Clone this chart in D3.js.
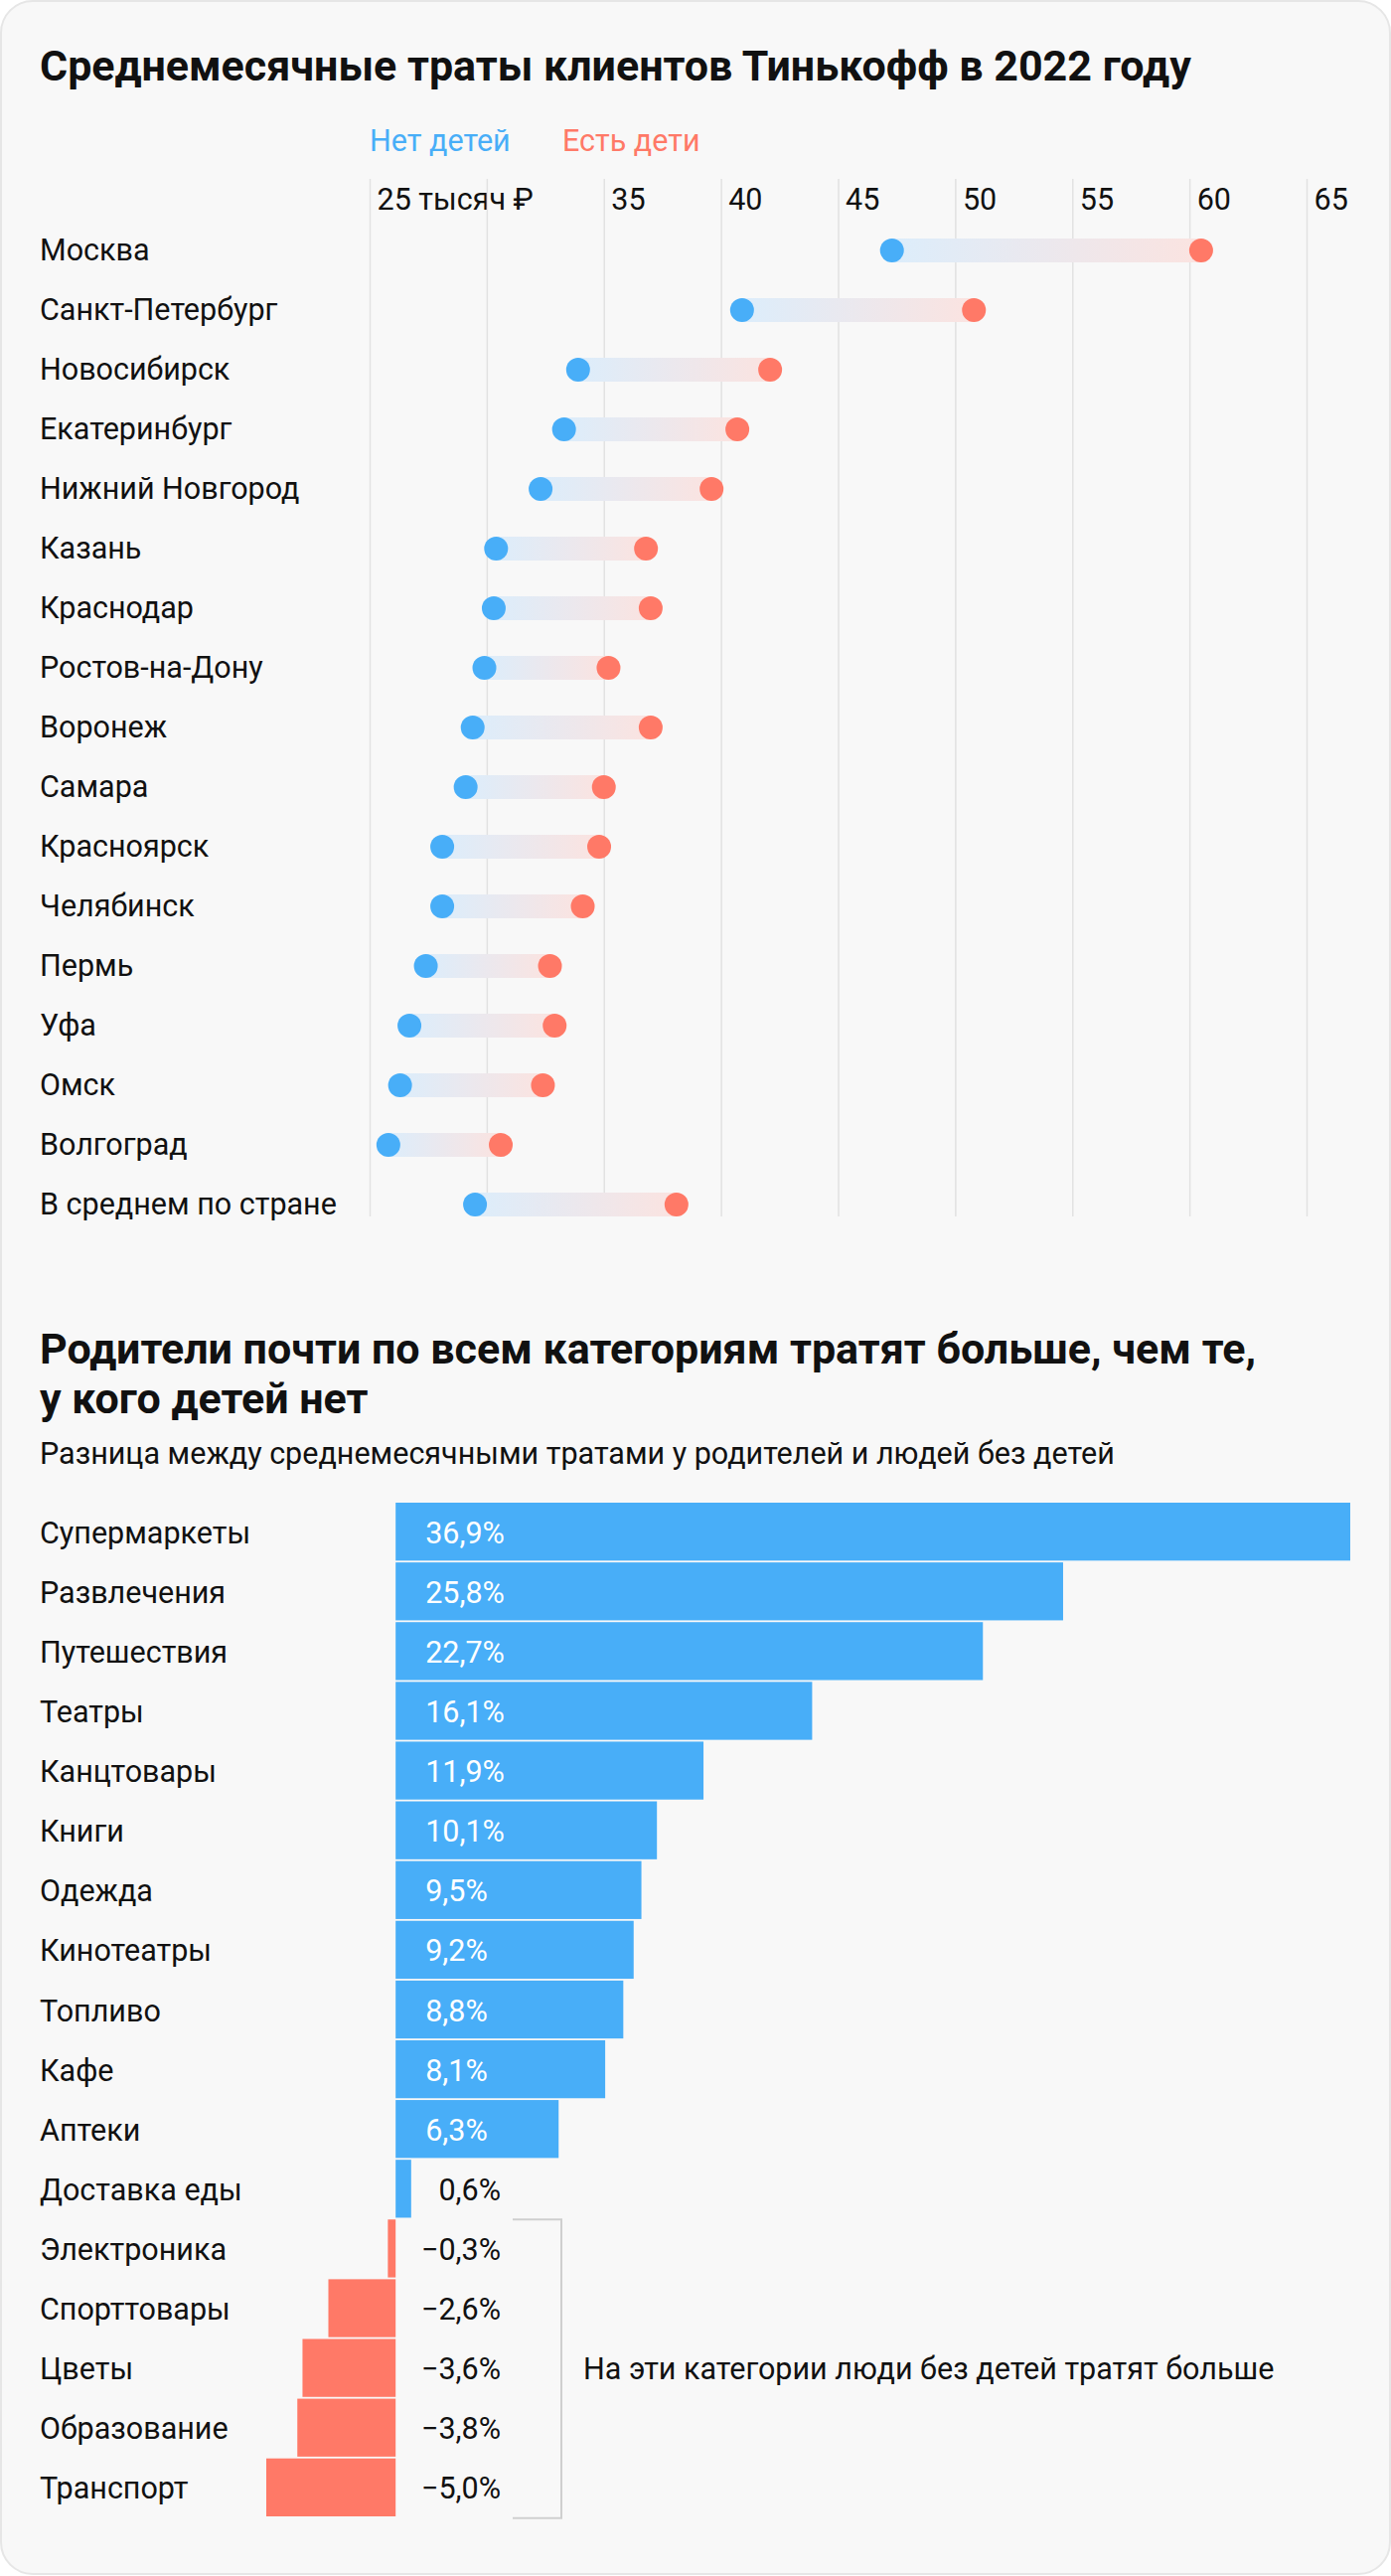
<!DOCTYPE html>
<html><head><meta charset="utf-8">
<script src="https://cdn.jsdelivr.net/npm/d3@7"></script>
<style>
body{margin:0;background:#fff;}
svg text{font-family:Roboto,"Noto Sans",sans-serif;}
</style></head>
<body><svg id="c" width="1400" height="2592"></svg>
<script>
// ---- Data: chart 1 ----
const cities = ["Москва","Санкт-Петербург","Новосибирск","Екатеринбург","Нижний Новгород","Казань","Краснодар","Ростов-на-Дону","Воронеж","Самара","Красноярск","Челябинск","Пермь","Уфа","Омск","Волгоград","В среднем по стране"];
const noKids  = [47.3,40.9,33.9,33.3,32.3,30.4,30.3,29.9,29.4,29.1,28.1,28.1,27.4,26.7,26.3,25.8,29.5];
const withKids= [60.5,50.8,42.1,40.7,39.6,36.8,37.0,35.2,37.0,35.0,34.8,34.1,32.7,32.9,32.4,30.6,38.1];
const tickValues = [25,30,35,40,45,50,55,60,65];
const tickLabels = ["25 тысяч ₽","","35","40","45","50","55","60","65"];
const legendLabels = ["Нет детей","Есть дети"];
// ---- Data: chart 2 ----
const categories = ["Супермаркеты","Развлечения","Путешествия","Театры","Канцтовары","Книги","Одежда","Кинотеатры","Топливо","Кафе","Аптеки","Доставка еды","Электроника","Спорттовары","Цветы","Образование","Транспорт"];
const diffs = [36.9,25.8,22.7,16.1,11.9,10.1,9.5,9.2,8.8,8.1,6.3,0.6,-0.3,-2.6,-3.6,-3.8,-5.0];
const title1 = "Среднемесячные траты клиентов Тинькофф в 2022 году";
const title2 = ["Родители почти по всем категориям тратят больше, чем те,","у кого детей нет"];
const subtitle2 = "Разница между среднемесячными тратами у родителей и людей без детей";
const note2 = "На эти категории люди без детей тратят больше";

const BLUE="#48aef8", RED="#ff7967", TXT="#111";
const FS = 30.5, TFS = 43;
const fmt = v => (v<0?"−":"") + Math.abs(v).toFixed(1).replace(".",",") + "%";

const svg = d3.select("#c");
const defs = svg.append("defs");
const g = defs.append("linearGradient").attr("id","grad");
g.append("stop").attr("offset","0%").attr("stop-color","#dcedfb");
g.append("stop").attr("offset","100%").attr("stop-color","#fbe3e0");

svg.append("rect").attr("x",1).attr("y",1).attr("width",1398).attr("height",2589)
  .attr("rx",32).attr("fill","#f8f8f8").attr("stroke","#e6e6e6").attr("stroke-width",2);

// ---- Chart 1 ----
svg.append("text").attr("x",40).attr("y",66).attr("dy","0.35em")
  .attr("font-size",TFS).attr("font-weight",700).attr("fill",TXT).text(title1);

svg.selectAll(".leg").data(legendLabels).join("text")
  .attr("x",(d,i)=>[372,566][i]).attr("y",141).attr("dy","0.35em")
  .attr("font-size",FS).attr("fill",(d,i)=>[BLUE,RED][i]).text(d=>d);

const x1 = d3.scaleLinear().domain([25,65]).range([372,1315]);
const y1 = d3.scaleBand().domain(cities).range([222,1242]);
const gridTop = 180, gridBot = 1224;

const ax = svg.append("g").attr("transform",`translate(0,${gridTop})`)
  .call(d3.axisTop(x1).tickValues(tickValues).tickSize(-(gridBot-gridTop)).tickFormat((d,i)=>tickLabels[i]));
ax.select(".domain").remove();
ax.selectAll(".tick line").attr("stroke","#e2e2e2").attr("stroke-width",1.5);
ax.selectAll(".tick text").attr("x",7).attr("y",20).attr("dy","0.35em").attr("text-anchor","start")
  .attr("font-size",FS).attr("fill",TXT).style("font-family","Roboto, sans-serif");

const rows = svg.append("g").selectAll("g").data(cities).join("g")
  .attr("transform",d=>`translate(0,${y1(d)+y1.bandwidth()/2})`);
rows.append("text").attr("x",40).attr("y",-1).attr("dy","0.35em").attr("font-size",FS).attr("fill",TXT).text(d=>d);
rows.append("rect").attr("x",(d,i)=>x1(noKids[i])).attr("y",-12)
  .attr("width",(d,i)=>x1(withKids[i])-x1(noKids[i])).attr("height",24).attr("fill","url(#grad)");
rows.append("circle").attr("cx",(d,i)=>x1(noKids[i])).attr("r",12).attr("fill",BLUE);
rows.append("circle").attr("cx",(d,i)=>x1(withKids[i])).attr("r",12).attr("fill",RED);

// ---- Chart 2 ----
svg.selectAll(".t2").data(title2).join("text")
  .attr("x",40).attr("y",(d,i)=>1357+i*50).attr("dy","0.35em")
  .attr("font-size",TFS).attr("font-weight",700).attr("fill",TXT).text(d=>d);
svg.append("text").attr("x",40).attr("y",1462).attr("dy","0.35em").attr("font-size",FS).attr("fill",TXT).text(subtitle2);

const x2 = d3.scaleLinear().domain([-5,36.9]).range([268,1359]);
const y2 = d3.scaleBand().domain(categories).range([1512,2532]).paddingInner(0.03);
const step = y2.step();

const brow = svg.append("g").selectAll("g").data(categories).join("g");
brow.append("rect")
  .attr("x",(d,i)=>Math.min(x2(0),x2(diffs[i])))
  .attr("y",d=>y2(d))
  .attr("width",(d,i)=>Math.abs(x2(diffs[i])-x2(0)))
  .attr("height",y2.bandwidth())
  .attr("fill",(d,i)=>diffs[i]>=0?BLUE:RED);
brow.append("text").attr("x",40).attr("y",d=>y2(d)+step/2).attr("dy","0.35em")
  .attr("font-size",FS).attr("fill",TXT).text(d=>d);
brow.append("text")
  .attr("x",(d,i)=>diffs[i]>=5?x2(0)+30:504)
  .attr("text-anchor",(d,i)=>diffs[i]>=5?"start":"end")
  .attr("y",d=>y2(d)+step/2).attr("dy","0.35em")
  .attr("font-size",FS).attr("fill",(d,i)=>diffs[i]>=5?"#fff":TXT).text((d,i)=>fmt(diffs[i]));

// bracket for negatives
const negs = categories.filter((d,i)=>diffs[i]<0);
const bTop = y2(negs[0]), bBot = y2(negs[negs.length-1])+step;
svg.append("path").attr("d",`M516,${bTop}H565V${bBot}H516`).attr("fill","none").attr("stroke","#cfcfcf").attr("stroke-width",2);
svg.append("text").attr("x",587).attr("y",(bTop+bBot)/2).attr("dy","0.35em").attr("font-size",FS).attr("fill",TXT).text(note2);
</script></body></html>
